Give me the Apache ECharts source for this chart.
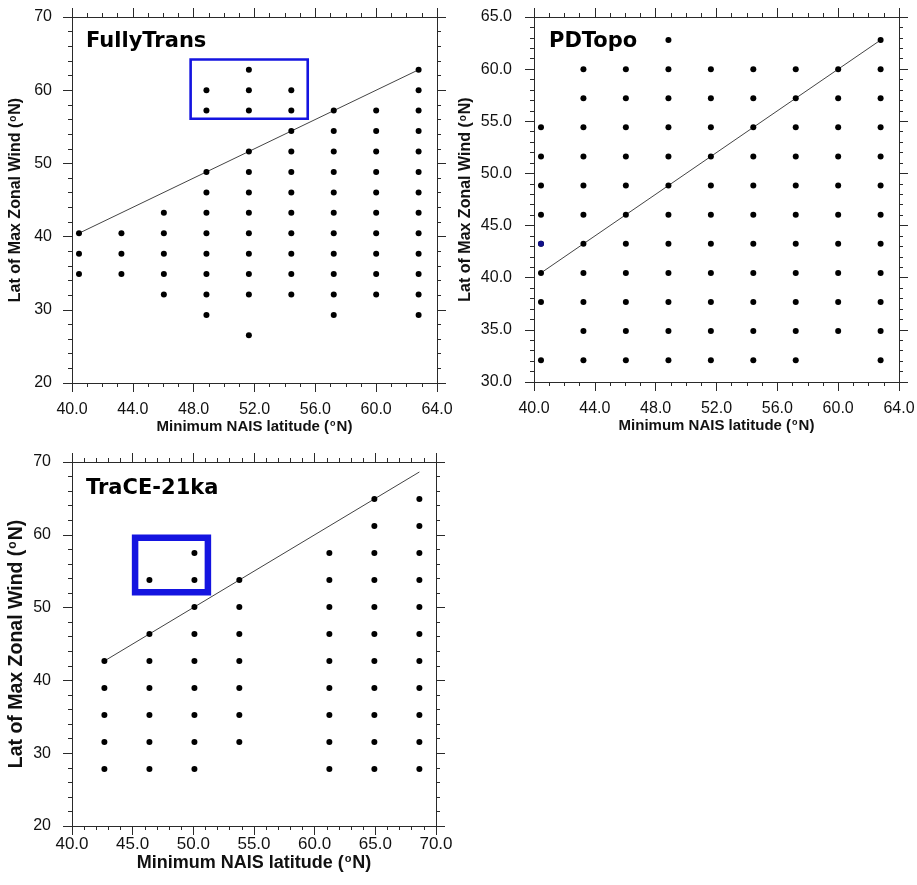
<!DOCTYPE html>
<html>
<head>
<meta charset="utf-8">
<script src="https://cdn.jsdelivr.net/npm/echarts@6/dist/echarts.min.js"></script>
<style>
html,body{margin:0;padding:0;background:#fff;}
#c{width:917px;height:885px;}
</style>
</head>
<body>
<div id="c"></div>
<script>
// ---------- DATA ----------
// FullyTrans (T42 grid)
const ftXs = [40.46, 43.25, 46.04, 48.84, 51.63, 54.42, 57.21, 60.00, 62.79];
const ftYs = [
  [40.46, 37.67, 34.88],
  [40.46, 37.67, 34.88],
  [43.25, 40.46, 37.67, 34.88, 32.09],
  [60.00, 57.21, 48.84, 46.04, 43.25, 40.46, 37.67, 34.88, 32.09, 29.30],
  [62.79, 60.00, 57.21, 51.63, 48.84, 46.04, 43.25, 40.46, 37.67, 34.88, 32.09, 26.51],
  [60.00, 57.21, 54.42, 51.63, 48.84, 46.04, 43.25, 40.46, 37.67, 34.88, 32.09],
  [57.21, 54.42, 51.63, 48.84, 46.04, 43.25, 40.46, 37.67, 34.88, 32.09, 29.30],
  [57.21, 54.42, 51.63, 48.84, 46.04, 43.25, 40.46, 37.67, 34.88, 32.09],
  [62.79, 60.00, 57.21, 54.42, 51.63, 48.84, 46.04, 43.25, 40.46, 37.67, 34.88, 32.09, 29.30]
];
const ftLine = [40.46, 62.79];
const ftBox = [47.8, 55.5, 56.1, 64.2]; // xMin, xMax, yMin, yMax

// PDTopo (T42 grid)
const pdXs = [40.46, 43.25, 46.04, 48.84, 51.63, 54.42, 57.21, 60.00, 62.79];
const pdYs = [
  [54.42, 51.63, 48.84, 46.04, 43.25, 40.46, 37.67, 32.09],
  [60.00, 57.21, 54.42, 51.63, 48.84, 46.04, 43.25, 40.46, 37.67, 34.88, 32.09],
  [60.00, 57.21, 54.42, 51.63, 48.84, 46.04, 43.25, 40.46, 37.67, 34.88, 32.09],
  [62.79, 60.00, 57.21, 54.42, 51.63, 48.84, 46.04, 43.25, 40.46, 37.67, 34.88, 32.09],
  [60.00, 57.21, 54.42, 51.63, 48.84, 46.04, 43.25, 40.46, 37.67, 34.88, 32.09],
  [60.00, 57.21, 54.42, 51.63, 48.84, 46.04, 43.25, 40.46, 37.67, 34.88, 32.09],
  [60.00, 57.21, 54.42, 51.63, 48.84, 46.04, 43.25, 40.46, 37.67, 34.88, 32.09],
  [60.00, 57.21, 54.42, 51.63, 48.84, 46.04, 43.25, 40.46, 37.67, 34.88],
  [62.79, 60.00, 57.21, 54.42, 51.63, 48.84, 46.04, 43.25, 40.46, 37.67, 34.88, 32.09]
];
const pdLine = [40.46, 62.79];
const pdBlue = [[40.46, 43.25]];

// TraCE-21ka (T31 grid)
const trXs = [42.67, 46.38, 50.09, 53.79, 61.21, 64.92, 68.63];
const trYs = [
  [42.67, 38.96, 35.25, 31.54, 27.83],
  [53.79, 46.38, 42.67, 38.96, 35.25, 31.54, 27.83],
  [57.50, 53.79, 50.09, 46.38, 42.67, 38.96, 35.25, 31.54, 27.83],
  [53.79, 50.09, 46.38, 42.67, 38.96, 35.25, 31.54],
  [57.50, 53.79, 50.09, 46.38, 42.67, 38.96, 35.25, 31.54, 27.83],
  [64.92, 61.21, 57.50, 53.79, 50.09, 46.38, 42.67, 38.96, 35.25, 31.54, 27.83],
  [64.92, 61.21, 57.50, 53.79, 50.09, 46.38, 42.67, 38.96, 35.25, 31.54, 27.83]
];
const trLine = [42.67, 68.63];
const trBox = [45.2, 51.2, 52.1, 59.6];

const titles = ['FullyTrans', 'PDTopo', 'TraCE-21ka'];
const xTitle = 'Minimum NAIS latitude ({sup|o}N)';
const yTitle = 'Lat of Max Zonal Wind ({sup|o}N)';

// ---------- BUILD ----------
function pts(xs, ys) {
  const out = [];
  xs.forEach((x, i) => ys[i].forEach(y => out.push([x, y])));
  return out;
}
const FONT = '"Liberation Sans", Arial, Helvetica, sans-serif';
const AX = '#2a2a2a';

function nameStyle(size) {
  return {
    fontFamily: FONT, fontWeight: 'bold', fontSize: size, color: '#111',
    rich: { sup: { fontFamily: FONT, fontWeight: 'bold', fontSize: Math.round(size * 0.62), color: '#111', verticalAlign: 'top', padding: [0, 1, 0, 1] } }
  };
}

function xAxes(gi, min, max, interval, minorSplit, dec, nameSize, nameGap, labelSize, labelMargin) {
  const common = {
    gridIndex: gi, type: 'value', min, max, interval,
    axisLine: { show: true, onZero: false, lineStyle: { color: AX, width: 1 } },
    axisTick: { show: true, inside: false, length: 9, lineStyle: { color: AX, width: 1 } },
    minorTick: { show: true, splitNumber: minorSplit, length: 4, lineStyle: { color: AX, width: 1 } },
    splitLine: { show: false }, minorSplitLine: { show: false }
  };
  return [
    Object.assign({}, common, {
      position: 'bottom',
      name: xTitle, nameLocation: 'middle', nameGap, nameTextStyle: nameStyle(nameSize),
      axisLabel: { show: true, margin: labelMargin, fontFamily: FONT, fontSize: labelSize, color: '#111',
        showMinLabel: true, showMaxLabel: true, hideOverlap: false,
        formatter: v => v.toFixed(dec) }
    }),
    Object.assign({}, common, { position: 'top', axisLabel: { show: false } })
  ];
}
function yAxes(gi, min, max, interval, minorSplit, dec, nameSize, nameGap, labelSize, labelMargin) {
  const common = {
    gridIndex: gi, type: 'value', min, max, interval,
    axisLine: { show: true, onZero: false, lineStyle: { color: AX, width: 1 } },
    axisTick: { show: true, inside: false, length: 9, lineStyle: { color: AX, width: 1 } },
    minorTick: { show: true, splitNumber: minorSplit, length: 4, lineStyle: { color: AX, width: 1 } },
    splitLine: { show: false }, minorSplitLine: { show: false }
  };
  return [
    Object.assign({}, common, {
      position: 'left',
      name: yTitle, nameLocation: 'middle', nameGap, nameRotate: 90, nameTextStyle: nameStyle(nameSize),
      axisLabel: { show: true, margin: labelMargin, fontFamily: FONT, fontSize: labelSize, color: '#111',
        showMinLabel: true, showMaxLabel: true, hideOverlap: false,
        formatter: v => v.toFixed(dec) }
    }),
    Object.assign({}, common, { position: 'right', axisLabel: { show: false } })
  ];
}

function panelSeries(axIdx, data, line, box, boxWidth, extra) {
  const s = [];
  s.push({
    type: 'line', xAxisIndex: axIdx, yAxisIndex: axIdx,
    data: [[line[0], line[0]], [line[1], line[1]]],
    symbol: 'none', silent: true, animation: false,
    lineStyle: { color: '#444', width: 1 }, z: 2
  });
  s.push({
    type: 'scatter', xAxisIndex: axIdx, yAxisIndex: axIdx,
    data, symbol: 'circle', symbolSize: 6, animation: false,
    itemStyle: { color: '#000', opacity: 1 }, z: 3,
    markArea: box ? {
      silent: true,
      itemStyle: { color: 'rgba(0,0,0,0)', borderColor: '#1414e0', borderWidth: boxWidth, opacity: 1 },
      data: [[{ coord: [box[0], box[3]] }, { coord: [box[1], box[2]] }]]
    } : undefined
  });
  if (extra) {
    s.push({
      type: 'scatter', xAxisIndex: axIdx, yAxisIndex: axIdx,
      data: extra, symbol: 'circle', symbolSize: 6, animation: false,
      itemStyle: { color: '#10108a', opacity: 1 }, z: 4
    });
  }
  return s;
}

const grids = [
  { left: 72, top: 17, width: 365, height: 366, outerBoundsMode: 'none', containLabel: false },
  { left: 534, top: 17, width: 365, height: 365, outerBoundsMode: 'none', containLabel: false },
  { left: 72, top: 462, width: 364, height: 364, outerBoundsMode: 'none', containLabel: false }
];

const xAxis = [].concat(
  xAxes(0, 40, 64, 4, 4, 1, 15, 34, 16, 19),
  xAxes(1, 40, 64, 4, 4, 1, 15, 34, 16, 19),
  xAxes(2, 40, 70, 5, 5, 1, 18, 26, 17, 10)
);
const yAxis = [].concat(
  yAxes(0, 20, 70, 10, 5, 0, 16, 48, 16, 20),
  yAxes(1, 30, 65, 5, 5, 1, 16, 60, 16, 22),
  yAxes(2, 20, 70, 10, 5, 0, 19.5, 45, 16, 21)
);

const series = [].concat(
  panelSeries(0, pts(ftXs, ftYs), ftLine, ftBox, 2.6),
  panelSeries(2, pts(pdXs, pdYs), pdLine, null, 0, pdBlue),
  panelSeries(4, pts(trXs, trYs), trLine, trBox, 6.5)
);

const titleFont = 'bold 21px "DejaVu Sans", Verdana, sans-serif';
const graphic = [
  { type: 'text', left: 86, top: 31, style: { text: titles[0], font: titleFont, fill: '#000' } },
  { type: 'text', left: 549, top: 31, style: { text: titles[1], font: titleFont, fill: '#000' } },
  { type: 'text', left: 86, top: 478, style: { text: titles[2], font: titleFont, fill: '#000' } }
];

const chart = echarts.init(document.getElementById('c'), null, { renderer: 'canvas' });
chart.setOption({
  animation: false,
  backgroundColor: '#fff',
  grid: grids,
  xAxis, yAxis, series, graphic
});
</script>
</body>
</html>
